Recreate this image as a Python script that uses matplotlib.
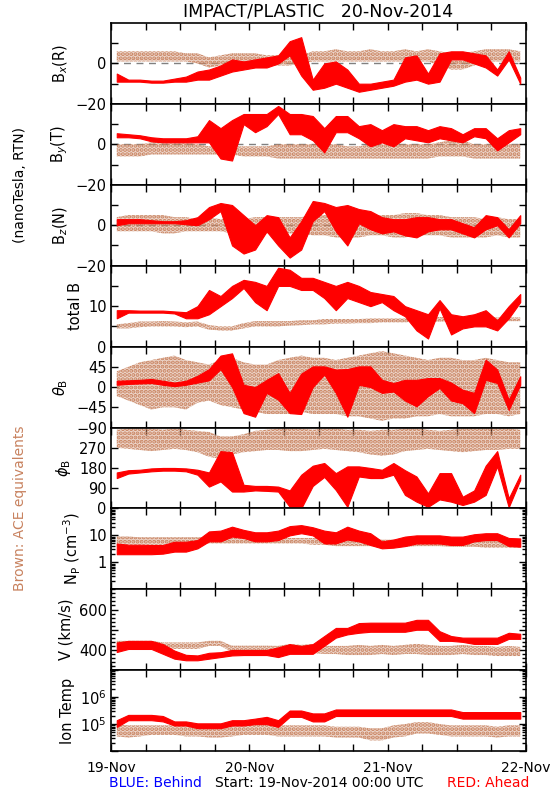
import numpy as np
import matplotlib
matplotlib.use("Agg")
from matplotlib import pyplot as plt
from matplotlib.ticker import MultipleLocator, FixedLocator, NullFormatter, LogLocator

RED = '#ff0000'
BROWN = '#c8825f'

# 2-hour bins from 19-Nov-2014 00:00 UTC, value = bin centre in hours
hours = np.arange(1, 72, 2)

# Bx(R), nT : low / high edge of the plotted scatter in each bin
bx_red_lo = [-9, -9, -9, -9.5, -9.5, -9, -9, -8, -8, -6, -4, -3, -2, -2, 0, 4, -6, -13,
             -12, -10, -12, -14, -13, -12, -11, -9, -8, -10, -9, 2, 2, 0, -2, -6, 2, -10]
bx_red_hi = [-5, -8, -8, -8.5, -8.5, -7.5, -6.5, -4, -3, -1, 2, 1, 2, 3, 4, 11, 13, -8,
             0, 1, -3, -10, -10, -9, -8, 3, 4, -5, 5, 6, 6, 5, 4, -3, 6, -7]
bx_ace_lo = [1, 1, 1, 1, 1, 1, 1, 0, -2, -1, 0, 0, 0, -1, -1, -1, 0, 1,
             1, 1, 1, 1, 1, 1, 1, 1, 1, 1, -1, -3, -3, -1, 1, 1, 1, 1]
bx_ace_hi = [6, 6, 6, 6, 6, 6, 5, 5, 3, 4, 5, 5, 5, 4, 4, 3, 4, 6,
             6, 7, 6, 6, 7, 6, 6, 7, 6, 7, 6, 5, 5, 6, 7, 7, 7, 6]

# By(T), nT
by_red_lo = [3.5, 3.5, 3, 1.5, 1, 1, 1, 1, 1, -7, -8, 10, 6, 9, 15, 5, 5, 2,
             -4, 6, 6, 3, -1, 1, -1, 3, 2, 1, 3, 2, 1, 4, 3, -3, 1, 5]
by_red_hi = [5.5, 5, 4.5, 3.5, 3, 3, 3, 4, 12, 8, 12, 15, 15, 15, 19, 15, 15, 14,
             8, 14, 14, 9, 10, 7, 10, 9, 9, 7, 9, 8, 5, 8, 8, 3, 7, 8]
by_ace_lo = [-6, -6, -6, -5, -5, -5, -5, -5, -5, -5, -5, -6, -6, -6, -7, -7, -7, -7,
             -7, -7, -7, -7, -7, -7, -7, -7, -7, -7, -6, -6, -6, -7, -7, -7, -7, -7]
by_ace_hi = [0, 0, 0, 1, 2, 2, 1, 0, -1, -1, -1, -1, -1, -1, 0, 0, 0, 0,
             0, 0, -1, -1, 0, 0, 0, 0, 0, 0, 1, 2, 2, 0, 0, 0, 0, 0]

# Bz(N), nT
bz_red_lo = [0, 1, 1, 1, 1, 1, 0.5, 0, 3, 7, -10, -14, -12, -3, -10, -16, -12, 2,
             7, -3, -10, 1, -2, -4, -3, -5, -6, -3, -2, -2, -4, -6, -2, 0, -6, 1]
bz_red_hi = [3, 3, 3, 2.5, 2, 2, 2.5, 4, 9, 11, 10, 5, 0, 5, 4, -6, 2, 12,
             11, 9, 10, 8, 7, 4, 3, 3, 4, 4, 3, 3, 1, -1, 5, 4, -2, 5]
bz_ace_lo = [-3, -3, -3, -3, -4, -4, -3, -3, -3, -3, -4, -4, -4, -4, -4, -4, -4, -5,
             -5, -6, -6, -6, -5, -5, -6, -6, -5, -5, -5, -6, -6, -6, -6, -5, -6, -6]
bz_ace_hi = [4, 5, 5, 5, 5, 4, 4, 3, 4, 3, 3, 3, 4, 4, 4, 4, 4, 5,
             5, 4, 4, 4, 4, 5, 5, 6, 6, 5, 5, 4, 4, 4, 3, 4, 3, 3]

# total B, nT
bt_red_lo = [7, 8.4, 8.4, 8.4, 8.4, 8.2, 7, 7, 8, 10, 12, 14.5, 11, 9, 15, 15, 14, 14,
             12, 9, 12, 11, 10, 11, 9, 7.5, 4, 2, 9.5, 3, 4.5, 5, 5, 4, 7, 11]
bt_red_hi = [9, 9, 8.9, 8.9, 8.9, 8.7, 8.5, 10, 14, 12.5, 15, 16.5, 16, 15, 19.5, 19, 17, 17,
             16, 15, 16, 15, 13.5, 13, 12.5, 10, 9, 8, 11.5, 8, 7.5, 8, 9, 6.5, 10, 13]
bt_ace_lo = [4.5, 4.5, 4.8, 5, 5, 5, 4.8, 5, 4.2, 4, 4, 4.5, 5, 5, 5, 5.2, 5.3, 5.5,
             5.5, 5.7, 5.7, 5.8, 5.8, 6, 6, 6, 6.2, 6.2, 6.2, 6.3, 6.3, 6.3, 6.3, 6.3, 6.3, 6.3]
bt_ace_hi = [5.5, 5.8, 6.2, 6.2, 6.3, 6.2, 6, 6.2, 5.3, 5, 5, 5.8, 6.3, 6.3, 6.3, 6.3, 6.5, 6.5,
             6.8, 6.8, 6.8, 6.8, 7, 7, 7, 7, 7.2, 7.3, 7.3, 7.3, 7.3, 7.3, 7.3, 7.2, 7.2, 7.2]

# theta_B, deg
th_red_lo = [5, 7, 8, 9, 5, 2, 5, 10, 15, 40, 0, -58, -66, -13, -28, -58, -60, 0,
             28, -13, -66, 5, 0, -13, -10, -30, -43, -20, -2, -30, -36, -58, 16, 9, -51, 5]
th_red_hi = [14, 15, 16, 18, 14, 10, 14, 25, 40, 70, 75, 5, 0, 16, 31, -13, 30, 46,
             46, 39, 40, 46, 46, 16, 9, 16, 16, 20, 20, 10, -6, -13, 61, 39, -28, 24]
th_ace_lo = [-20, -30, -40, -50, -45, -45, -50, -35, -30, -40, -45, -50, -55, -60, -60, -60, -55, -60,
             -60, -60, -65, -65, -70, -75, -70, -70, -65, -65, -60, -65, -65, -65, -60, -60, -65, -60]
th_ace_hi = [35, 45, 55, 60, 65, 70, 60, 55, 50, 60, 65, 55, 50, 50, 60, 65, 70, 65,
             65, 60, 65, 70, 75, 80, 75, 70, 65, 60, 65, 65, 60, 60, 65, 60, 55, 55]

# phi_B, deg
ph_red_lo = [135, 155, 160, 165, 168, 168, 165, 150, 97, 120, 75, 75, 80, 78, 75, 7, 0, 100,
             140, 82, 7, 142, 135, 135, 150, 60, 30, 7, 40, 30, 15, 30, 60, 187, 5, 127]
ph_red_hi = [160, 170, 172, 178, 180, 180, 178, 172, 160, 255, 250, 105, 100, 100, 97, 80, 150, 190,
             202, 157, 187, 187, 180, 172, 202, 170, 142, 67, 157, 157, 52, 80, 190, 255, 45, 150]
ph_ace_lo = [270, 265, 260, 255, 260, 265, 260, 250, 230, 220, 240, 250, 255, 260, 260, 255, 255, 260,
             265, 260, 255, 250, 240, 235, 240, 255, 260, 265, 260, 255, 250, 255, 260, 260, 265, 265]
ph_ace_hi = [350, 355, 355, 355, 350, 355, 350, 345, 340, 320, 320, 330, 345, 350, 355, 355, 355, 350,
             355, 355, 350, 350, 345, 350, 350, 355, 355, 350, 345, 350, 355, 355, 355, 355, 355, 350]

# proton density, cm^-3
np_red_lo = [2, 2, 2, 2, 2.1, 2.5, 2.5, 3.3, 6, 6, 9, 8, 6, 6, 6.7, 10, 12, 10,
             5, 5, 7, 6, 4.4, 3.3, 3.5, 4, 5, 5, 5, 4.4, 4.4, 6, 6.7, 6.7, 4, 3.8]
np_red_hi = [5, 4.5, 4.5, 4.4, 4.4, 5.8, 5.8, 6.7, 14, 15, 21, 16, 13, 13, 15, 22, 24, 20,
             15, 13, 21, 15, 12, 6, 7, 9, 10, 10, 10, 9, 9, 11, 12, 12, 8, 7.7]
np_ace_lo = [4, 4.5, 4.5, 4.5, 4.5, 4.5, 4.5, 4.5, 5, 5, 5, 5, 5, 5, 5, 5, 5, 4.5,
             4.5, 4, 4, 4, 4, 3.8, 3.8, 3.8, 4, 4, 4, 3.8, 3.8, 3.8, 3.5, 3.5, 3.5, 3.5]
np_ace_hi = [9, 9, 8.5, 8.5, 8.5, 8.5, 8.5, 8.5, 8.5, 8, 8, 8, 8, 8, 8, 8, 8, 8,
             7.5, 7.5, 7, 7, 7, 7, 7, 7, 7.5, 7.5, 7, 7, 7, 7, 7, 6.5, 6.5, 6.5]

# bulk speed, km/s
v_red_lo = [390, 405, 405, 405, 381, 357, 349, 349, 357, 365, 373, 375, 375, 375, 365, 381, 381, 381,
            421, 461, 477, 485, 490, 490, 490, 490, 500, 500, 445, 445, 440, 430, 430, 430, 455, 455]
v_red_hi = [437, 445, 445, 445, 429, 397, 376, 373, 386, 389, 400, 400, 400, 400, 413, 429, 420, 429,
            469, 509, 509, 533, 535, 535, 535, 535, 549, 549, 493, 469, 461, 461, 461, 461, 485, 480]
v_ace_lo = [410, 413, 413, 413, 405, 405, 405, 405, 420, 420, 390, 390, 390, 390, 380, 380, 385, 385,
            380, 380, 375, 375, 375, 380, 375, 380, 380, 375, 375, 375, 380, 375, 375, 370, 370, 370]
v_ace_hi = [445, 445, 445, 445, 437, 437, 437, 437, 445, 445, 421, 421, 421, 421, 420, 429, 425, 429,
            420, 420, 420, 425, 420, 425, 420, 425, 430, 425, 420, 420, 425, 420, 420, 415, 420, 415]

# ion temperature, K
t_red_lo = [7.9e4, 1.4e5, 1.4e5, 1.4e5, 1.26e5, 8.9e4, 8.9e4, 7.1e4, 7.1e4, 7.1e4, 8.9e4, 8.9e4,
            1.0e5, 1.0e5, 7.9e4, 1.86e5, 1.86e5, 1.26e5, 1.26e5, 2.0e5, 2.0e5, 2.0e5, 2.0e5, 2.0e5,
            2.0e5, 2.0e5, 2.0e5, 2.0e5, 2.0e5, 2.0e5, 1.6e5, 1.6e5, 1.6e5, 1.6e5, 1.6e5, 1.6e5]
t_red_hi = [1.4e5, 2.2e5, 2.2e5, 2.2e5, 2.0e5, 1.26e5, 1.26e5, 1.07e5, 1.07e5, 1.07e5, 1.4e5, 1.4e5,
            1.6e5, 1.86e5, 1.4e5, 3.2e5, 3.2e5, 2.5e5, 2.5e5, 3.5e5, 3.5e5, 3.5e5, 3.5e5, 3.5e5,
            3.5e5, 3.5e5, 3.5e5, 3.5e5, 3.5e5, 3.5e5, 2.8e5, 2.8e5, 2.8e5, 2.8e5, 2.8e5, 2.8e5]
t_ace_lo = [3.5e4, 3.2e4, 3.5e4, 4.0e4, 4.0e4, 4.0e4, 3.5e4, 3.5e4, 3.2e4, 3.2e4, 3.5e4, 4.0e4,
            4.0e4, 4.0e4, 3.5e4, 3.5e4, 3.5e4, 3.5e4, 3.5e4, 3.2e4, 3.2e4, 3.2e4, 2.5e4, 2.5e4,
            3.2e4, 3.5e4, 4.5e4, 4.5e4, 4.0e4, 3.5e4, 3.5e4, 3.5e4, 3.5e4, 3.2e4, 3.5e4, 3.5e4]
t_ace_hi = [1.0e5, 9.0e4, 9.0e4, 9.0e4, 9.0e4, 9.0e4, 9.0e4, 9.0e4, 8.0e4, 8.0e4, 9.0e4, 1.0e5,
            1.0e5, 1.0e5, 9.0e4, 9.0e4, 9.0e4, 9.0e4, 9.0e4, 8.0e4, 8.0e4, 8.0e4, 7.0e4, 7.0e4,
            9.0e4, 1.0e5, 1.2e5, 1.2e5, 1.0e5, 9.0e4, 9.0e4, 9.0e4, 9.0e4, 8.0e4, 9.0e4, 9.0e4]

day_ticks = [0, 24, 48, 72]
day_labels = ['19-Nov', '20-Nov', '21-Nov', '22-Nov']

panels = [
    ('B$_x$(R)', bx_red_lo, bx_red_hi, bx_ace_lo, bx_ace_hi, (-20, 20), [-20, -10, 0, 10], {-20: '\u221220', 0: '0'}),
    ('B$_y$(T)', by_red_lo, by_red_hi, by_ace_lo, by_ace_hi, (-20, 20), [-20, -10, 0, 10], {-20: '\u221220', 0: '0'}),
    ('B$_z$(N)', bz_red_lo, bz_red_hi, bz_ace_lo, bz_ace_hi, (-20, 20), [-20, -10, 0, 10], {-20: '\u221220', 0: '0'}),
    ('total B', bt_red_lo, bt_red_hi, bt_ace_lo, bt_ace_hi, (0, 20), [0, 5, 10, 15], {0: '0', 10: '10'}),
    ('$\\theta_{\\rm B}$', th_red_lo, th_red_hi, th_ace_lo, th_ace_hi, (-90, 90), [-90, -45, 0, 45],
     {-90: '\u221290', -45: '\u221245', 0: '0', 45: '45'}),
    ('$\\phi_{\\rm B}$', ph_red_lo, ph_red_hi, ph_ace_lo, ph_ace_hi, (0, 360), [0, 90, 180, 270],
     {0: '0', 90: '90', 180: '180', 270: '270'}),
    ('N$_{\\rm P}$ (cm$^{-3}$)', np_red_lo, np_red_hi, np_ace_lo, np_ace_hi, (0.1, 100), [0.1, 1, 10, 100],
     {1: '1', 10: '10'}),
    ('V (km/s)', v_red_lo, v_red_hi, v_ace_lo, v_ace_hi, (300, 700), [400, 500, 600], {400: '400', 600: '600'}),
    ('Ion Temp', t_red_lo, t_red_hi, t_ace_lo, t_ace_hi, (1e4, 1e7), [1e4, 1e5, 1e6, 1e7],
     {1e5: '10$^5$', 1e6: '10$^6$'}),
]

plt.rcParams['font.family'] = 'DejaVu Sans'
plt.rcParams['hatch.color'] = BROWN
plt.rcParams['hatch.linewidth'] = 2.0
fig = plt.figure(figsize=(5.5, 8), dpi=100)

top_px, panel_h = 23, 80.9
for i, (label, rlo, rhi, alo, ahi, ylim, ticks, ticklabels) in enumerate(panels):
    bottom = 1 - (top_px + (i + 1) * panel_h) / 800
    ax = fig.add_axes([111 / 550, bottom, 415 / 550, panel_h / 800])
    log = ylim[0] > 0 and ylim[1] / ylim[0] >= 100
    if log:
        ax.set_yscale('log')
    # ACE points: dotted brown band
    ax.fill_between(hours, alo, ahi, facecolor=(0.78, 0.51, 0.37, 0.32), edgecolor=BROWN,
                    hatch='....', lw=0, zorder=2)
    # STEREO Ahead: solid red trace
    ax.fill_between(hours, rlo, rhi, color=RED, lw=0.8, edgecolor=RED, zorder=3)
    if ylim == (-20, 20):
        ax.axhline(0, color='#808080', lw=1, ls=(0, (5, 4)), zorder=1)
    ax.set_xlim(0, 72)
    ax.yaxis.set_major_locator(FixedLocator(ticks))
    if log:
        ax.yaxis.set_minor_locator(LogLocator(base=10, subs=np.arange(2, 10), numticks=10))
        ax.yaxis.set_minor_formatter(NullFormatter())
    elif label.startswith('V'):
        ax.yaxis.set_minor_locator(MultipleLocator(20))
    ax.set_yticklabels([ticklabels.get(t, '') for t in ticks])
    ax.set_ylim(*ylim)
    ax.xaxis.set_major_locator(FixedLocator(day_ticks))
    ax.xaxis.set_minor_locator(MultipleLocator(6))
    ax.tick_params(which='both', direction='in', top=True, right=True, labelsize=10.5, pad=3)
    ax.tick_params(which='major', length=5, width=1)
    ax.tick_params(which='minor', length=3, width=1)
    ax.tick_params(axis='x', which='minor', length=5)
    for s in ax.spines.values():
        s.set_linewidth(1.2)
    ax.set_ylabel(label, fontsize=10.5, labelpad=4)
    if i < len(panels) - 1:
        ax.set_xticklabels([])
    else:
        ax.set_xticklabels(day_labels, fontsize=10)
        ax.tick_params(axis='x', pad=7)

fig.text(318 / 550, 1 - 12 / 800, 'IMPACT/PLASTIC   20-Nov-2014', ha='center', va='center', fontsize=12.5)
fig.text(20 / 550, 1 - 185 / 800, '(nanoTesla, RTN)', rotation=90, ha='center', va='center', fontsize=10)
fig.text(20 / 550, 1 - 508 / 800, 'Brown: ACE equivalents', rotation=90, ha='center', va='center',
         fontsize=10, color=BROWN)
fig.text(155 / 550, 1 - 783 / 800, 'BLUE: Behind', ha='center', va='center', fontsize=10, color='#0000ff')
fig.text(319 / 550, 1 - 783 / 800, 'Start: 19-Nov-2014 00:00 UTC', ha='center', va='center', fontsize=10)
fig.text(488 / 550, 1 - 783 / 800, 'RED: Ahead', ha='center', va='center', fontsize=10, color=RED)

fig.savefig('out.png', dpi=100)
